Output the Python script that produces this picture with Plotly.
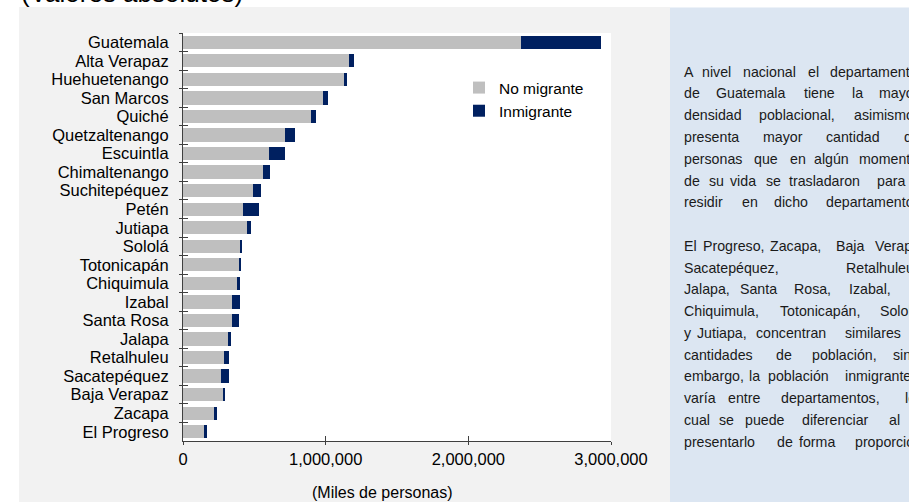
import plotly.graph_objects as go

# ---------------- data ----------------
departamentos = ["Guatemala", "Alta Verapaz", "Huehuetenango", "San Marcos", "Quiché",
                 "Quetzaltenango", "Escuintla", "Chimaltenango", "Suchitepéquez", "Petén",
                 "Jutiapa", "Sololá", "Totonicapán", "Chiquimula", "Izabal", "Santa Rosa",
                 "Jalapa", "Retalhuleu", "Sacatepéquez", "Baja Verapaz", "Zacapa", "El Progreso"]
no_migrante = [2367000, 1162000, 1127000, 980000, 896000, 713000, 603000, 559000, 491000, 421000,
               449000, 400000, 393000, 381000, 344000, 346000, 318000, 288000, 269000, 278000,
               215000, 149000]
inmigrante = [562000, 38000, 24000, 33000, 35000, 70000, 113000, 49000, 56000, 112000,
              28000, 16000, 14000, 21000, 53000, 44000, 19000, 35000, 54000, 19000,
              24000, 22000]
x_ticks = [0, 1000000, 2000000, 3000000]
series_names = ["No migrante", "Inmigrante"]

titulo = "(Valores absolutos)"
eje_x = "(Miles de personas)"

# side panel text (justified lines, split into words)
panel_lines = [
    "A nivel nacional el departamento",
    "de Guatemala tiene la mayor",
    "densidad poblacional, asimismo,",
    "presenta mayor cantidad de",
    "personas que en algún momento",
    "de su vida se trasladaron para",
    "residir en dicho departamento.",
    "",
    "El Progreso, Zacapa, Baja Verapaz,",
    "Sacatepéquez, Retalhuleu,",
    "Jalapa, Santa Rosa, Izabal,",
    "Chiquimula, Totonicapán, Sololá",
    "y Jutiapa, concentran similares",
    "cantidades de población, sin",
    "embargo, la población inmigrante",
    "varía entre departamentos, lo",
    "cual se puede diferenciar al",
    "presentarlo de forma proporcional.",
]
panel_word_x = [
    [682, 700, 741, 805.7, 827.7],
    [682, 714, 802.3, 850, 877.3],
    [682, 757.3, 852.3],
    [682, 761, 824.3, 901.7],
    [682, 751.7, 787.7, 811.7, 856.7],
    [682, 706.7, 728.3, 764, 786.7, 875],
    [682, 740, 771.7, 824.3],
    [],
    [682, 701, 768.3, 834.3, 873.3],
    [682, 844],
    [682, 737.7, 791.7, 846.7],
    [682, 778.3, 878.3],
    [682, 695, 754, 843.3],
    [682, 774, 810, 890.7],
    [682, 747.3, 766, 843.3],
    [682, 725.7, 779.3, 903.3],
    [682, 717.3, 742.7, 800, 887.3],
    [682, 775, 796.7, 853.3],
]

# ---------------- layout helpers ----------------
W, H = 909, 502
L, R, T, B = 183, 611, 33, 441


def px(x):
    return (x - L) / (R - L)


def py(y):
    return (B - y) / (B - T)


FONT = "Liberation Sans, Arial, sans-serif"
GRAY = "#bfbfbf"
NAVY = "#002060"
AXIS = "#3f3f3f"

fig = go.Figure()
fig.add_trace(go.Bar(y=departamentos, x=no_migrante, orientation="h", name=series_names[0],
                     marker=dict(color=GRAY, line=dict(width=0))))
fig.add_trace(go.Bar(y=departamentos, x=inmigrante, orientation="h", name=series_names[1],
                     marker=dict(color=NAVY, line=dict(width=0))))
# invisible helper trace on overlay axes (for the crossing tick marks)
fig.add_trace(go.Scatter(y=departamentos, x=no_migrante, xaxis="x2", yaxis="y2", mode="markers",
                         marker=dict(opacity=0), showlegend=False, hoverinfo="skip"))

shapes = [
    dict(type="rect", xref="paper", yref="paper", x0=px(19), x1=px(670), y0=py(7), y1=py(503),
         fillcolor="#f2f2f2", line=dict(width=0), layer="below"),
    dict(type="rect", xref="paper", yref="paper", x0=px(670), x1=px(912), y0=py(7.5), y1=py(503),
         fillcolor="#dce6f2", line=dict(width=0), layer="below"),
    dict(type="rect", xref="paper", yref="paper", x0=0, x1=1, y0=0, y1=1,
         fillcolor="white", line=dict(width=0), layer="below"),
]

annotations = [
    dict(text=titulo, xref="paper", yref="paper", x=px(19), y=py(10), xanchor="left",
         yanchor="bottom", showarrow=False, font=dict(family=FONT, size=26, color="#000000")),
    dict(text=eje_x, xref="paper", yref="paper", x=px(382), y=py(492), xanchor="center",
         yanchor="middle", showarrow=False, font=dict(family=FONT, size=16, color="#000000")),
]

line_step = (441.7 - 71.7) / 17
for i, (line, xs) in enumerate(zip(panel_lines, panel_word_x)):
    if not line:
        continue
    yline = 71.7 + i * line_step
    for word, xw in zip(line.split(" "), xs):
        annotations.append(dict(text=word, xref="paper", yref="paper", x=px(xw), y=py(yline),
                                xanchor="left", yanchor="middle", showarrow=False,
                                font=dict(family=FONT, size=14.2, color="#1a1a1a")))

fig.update_layout(
    width=W, height=H,
    margin=dict(l=L, r=W - R, t=T, b=H - B, pad=0),
    paper_bgcolor="white", plot_bgcolor="white",
    barmode="stack", bargap=0.28,
    font=dict(family=FONT, size=16.5, color="#000000"),
    showlegend=True,
    legend=dict(x=px(459), y=py(71), xanchor="left", yanchor="top", traceorder="normal",
                bgcolor="rgba(0,0,0,0)", font=dict(family=FONT, size=15.5, color="#000000"),
                itemclick=False, tracegroupgap=0),
    xaxis=dict(range=[0, 3000000], tickvals=x_ticks, tickformat=",", showgrid=False,
               zeroline=False, showline=True, linecolor=AXIS, linewidth=1,
               ticks="outside", ticklen=3, tickcolor=AXIS, tickfont=dict(size=16.5)),
    xaxis2=dict(overlaying="x", anchor="y2", range=[0, 3000000], tickvals=x_ticks,
                showticklabels=False, showgrid=False, zeroline=False, showline=False,
                ticks="inside", ticklen=5, tickcolor=AXIS),
    yaxis=dict(type="category", categoryarray=departamentos, range=[21.5, -0.5],
               tickmode="linear", tick0=0, dtick=1,
               showgrid=False, zeroline=False, showline=True, linecolor=AXIS, linewidth=1,
               ticks="outside", ticklen=3, tickcolor=AXIS, tickson="boundaries",
               ticklabelstandoff=10, tickfont=dict(size=16.5)),
    yaxis2=dict(type="category", categoryarray=departamentos, range=[21.5, -0.5],
                tickmode="linear", tick0=0, dtick=1,
                overlaying="y", anchor="x2", showticklabels=False, showgrid=False,
                zeroline=False, showline=False, ticks="inside", ticklen=5, tickcolor=AXIS,
                tickson="boundaries"),
    shapes=shapes,
    annotations=annotations,
)

fig.write_html("out.html")
